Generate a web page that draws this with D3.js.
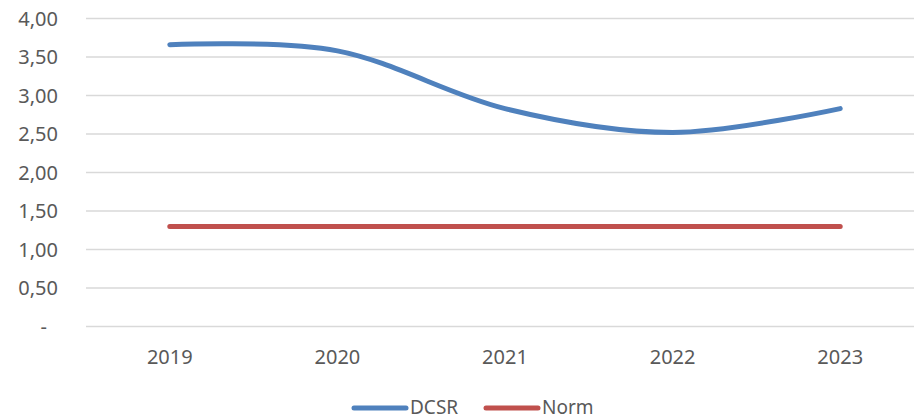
<!DOCTYPE html>
<html><head>
<script src="https://d3js.org/d3.v7.min.js"></script>
<style>
body { margin: 0; background: white; }
svg text { font-family: "Noto Sans", "Open Sans", sans-serif; fill: #595959; }
</style>
</head><body>
<svg id="chart"></svg>
<script>
var years = ["2019", "2020", "2021", "2022", "2023"];
var dcsr = [3.66, 3.58, 2.83, 2.52, 2.83];
var norm = [1.30, 1.30, 1.30, 1.30, 1.30];
var yTicks = [0, 0.5, 1, 1.5, 2, 2.5, 3, 3.5, 4];

var width = 914, height = 419;
var plotLeft = 86, plotRight = 924, plotTop = 18.5, plotBottom = 326.5;

var svg = d3.select("#chart").attr("width", width).attr("height", height);

var x = d3.scaleBand().domain(years).range([plotLeft, plotRight]);
var y = d3.scaleLinear().domain([0, 4]).range([plotBottom, plotTop]);

function fmt(d) { return d === 0 ? "-" : d.toFixed(2).replace(".", ","); }

// gridlines
svg.append("g").selectAll("line")
    .data(yTicks)
    .enter().append("line")
    .attr("x1", plotLeft).attr("x2", plotRight)
    .attr("y1", function(d) { return y(d); })
    .attr("y2", function(d) { return y(d); })
    .attr("stroke", "#d9d9d9")
    .attr("stroke-width", 1.5);

// y labels
svg.append("g").selectAll("text")
    .data(yTicks)
    .enter().append("text")
    .attr("x", function(d) { return d === 0 ? 47 : 58; })
    .attr("y", function(d) { return y(d); })
    .attr("dy", "0.35em")
    .attr("text-anchor", "end")
    .style("font-size", "20px")
    .text(fmt);

// x labels
svg.append("g").selectAll("text")
    .data(years)
    .enter().append("text")
    .attr("x", function(d) { return x(d) + x.bandwidth() / 2; })
    .attr("y", 357)
    .attr("dy", "0.35em")
    .attr("text-anchor", "middle")
    .style("font-size", "20px")
    .text(function(d) { return d; });

var line = d3.line()
    .x(function(d, i) { return x(years[i]) + x.bandwidth() / 2; })
    .y(function(d) { return y(d); })
    .curve(d3.curveCatmullRom.alpha(0));

svg.append("path").datum(dcsr)
    .attr("d", line)
    .attr("fill", "none").attr("stroke", "#4f81bd")
    .attr("stroke-width", 5).attr("stroke-linecap", "round");

svg.append("path").datum(norm)
    .attr("d", line)
    .attr("fill", "none").attr("stroke", "#c0504d")
    .attr("stroke-width", 5).attr("stroke-linecap", "round");

// legend
var legend = [["DCSR", "#4f81bd", 354], ["Norm", "#c0504d", 486]];
var lg = svg.append("g").selectAll("g").data(legend).enter().append("g");
lg.append("line")
    .attr("x1", function(d) { return d[2]; })
    .attr("x2", function(d) { return d[2] + 52; })
    .attr("y1", 408).attr("y2", 408)
    .attr("stroke", function(d) { return d[1]; })
    .attr("stroke-width", 5).attr("stroke-linecap", "round");
lg.append("text")
    .attr("x", function(d) { return d[2] + 56; })
    .attr("y", 407)
    .attr("dy", "0.35em")
    .style("font-size", "19px")
    .text(function(d) { return d[0]; });
</script>
</body></html>
